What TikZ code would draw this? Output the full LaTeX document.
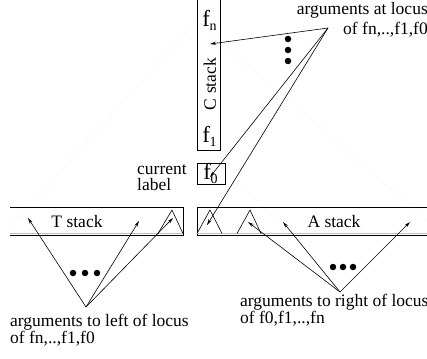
\documentclass[tikz,border=0pt]{standalone}
\usepackage{fontspec}
\setmainfont{Liberation Serif}
\usetikzlibrary{arrows.meta}
\newcommand\fsub[1]{{\fontsize{23}{23}\selectfont f}\kern-0.5pt\raisebox{-4pt}{\fontsize{14}{14}\selectfont #1}}
\begin{document}
\begin{tikzpicture}[x=1pt,y=-1pt,
  lbl/.style={font=\fontsize{17.5}{16}\selectfont, inner sep=0pt},
  boxline/.style={line width=0.8pt},
  arr/.style={-{Stealth[length=6pt,width=3.2pt]}, line width=0.6pt},
  bigdot/.style={circle, fill=black, inner sep=0pt, minimum size=6.5pt},
  faint/.style={black!18, dotted, line width=0.4pt}]
\useasboundingbox (0,0) rectangle (427,358);
% faint background lines
\draw[faint] (197,20) -- (10,228);
\draw[faint] (197,20) -- (427,221);
\draw[faint] (200,148) -- (280,222);
% C stack
\node[draw, boxline, minimum width=23pt, minimum height=156pt, inner sep=0pt] (cbox) at (208.5,72) {};
\node[inner sep=0pt] (fn) at (209.5,20) {\fsub{n}};
\node[lbl, rotate=90] (cst) at (210,84) {C stack};
\node[inner sep=0pt] (f1) at (209.5,136) {\fsub{1}};
% current label
\node[draw, boxline, minimum width=28pt, minimum height=21pt, inner sep=0pt] (f0box) at (211,173.5) {};
\node[inner sep=0pt] (f0) at (210.5,173) {\fsub{0}};
\node[lbl, anchor=west, align=left] (cur) at (137,178) {current\\label};
% T stack band
\draw[boxline] (10,207) -- (183,207) -- (183,235.5) -- (10,235.5);
\draw[black!25, line width=0.4pt] (10,233.5) -- (183,233.5);
\node[lbl] (tst) at (77,222) {T stack};
\draw[line width=0.6pt] (158,233.5) -- (172,210) -- (183,233.5);
% A stack band
\draw[boxline] (427,207) -- (197,207) -- (197,235.5) -- (427,235.5);
\draw[black!25, line width=0.4pt] (197,233.5) -- (427,233.5);
\node[lbl] (ast) at (334,222) {A stack};
\draw[line width=0.6pt] (197,233.5) -- (210,210) -- (222,233.5);
\draw[line width=0.6pt] (237,233.5) -- (250,210) -- (261,233.5);
% top texts and arrows
\node[lbl, anchor=east] (top1) at (428,10) {arguments at locus};
\node[lbl, anchor=east] (top2) at (428,30) {of fn,..,f1,f0};
\coordinate (ts) at (328,28);
\coordinate (c1) at (210,44);
\coordinate (c2) at (210,177);
\coordinate (c3) at (207,225);
\draw[arr] (ts) -- (c1);
\draw[arr] (ts) -- (c2);
\draw[arr] (ts) -- (c3);
\node[bigdot] (d1) at (288,39) {};
\node[bigdot] (d2) at (288,50) {};
\node[bigdot] (d3) at (288,61) {};
% left group
\coordinate (ls) at (86,307);
\coordinate (l1) at (28,218);
\coordinate (l2) at (139,221);
\coordinate (l3) at (173,218);
\draw[arr] (ls) -- (l1);
\draw[arr] (ls) -- (l2);
\draw[arr] (ls) -- (l3);
\node[bigdot] (e1) at (73,273) {};
\node[bigdot] (e2) at (85,273) {};
\node[bigdot] (e3) at (97,273) {};
\node[lbl, anchor=west] (lt1) at (10,322) {arguments to left of locus};
\node[lbl, anchor=west] (lt2) at (10,339) {of fn,..,f1,f0};
% right group
\coordinate (rs) at (340,292);
\coordinate (r1) at (248,222);
\coordinate (r2) at (283,222);
\coordinate (r3) at (410,222);
\draw[arr] (rs) -- (r1);
\draw[arr] (rs) -- (r2);
\draw[arr] (rs) -- (r3);
\node[bigdot] (g1) at (333,267) {};
\node[bigdot] (g2) at (343,267) {};
\node[bigdot] (g3) at (353,267) {};
\node[lbl, anchor=west] (rt1) at (240,302) {arguments to right of locus};
\node[lbl, anchor=west] (rt2) at (240,319) {of f0,f1,..,fn};
\end{tikzpicture}
\end{document}
